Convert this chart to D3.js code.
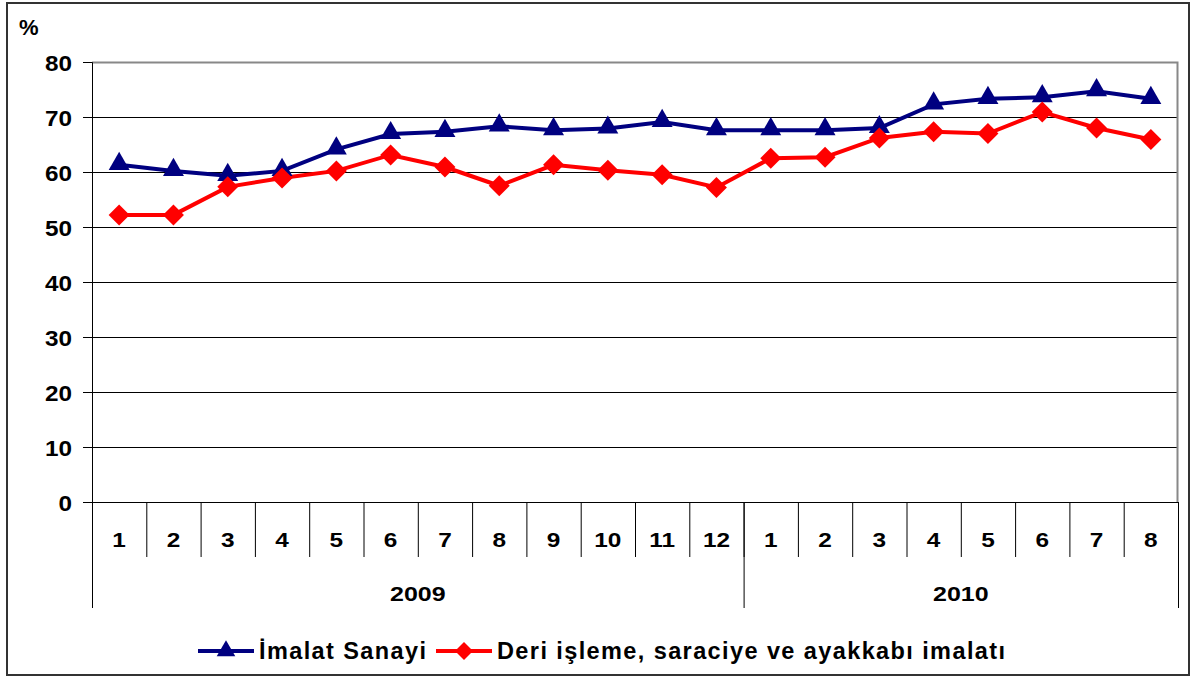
<!DOCTYPE html>
<html>
<head>
<meta charset="utf-8">
<script src="https://cdn.jsdelivr.net/npm/d3@7"></script>
<style>
  body { margin: 0; background: #fff; }
  text { font-family: 'Liberation Sans', Arial, sans-serif; font-weight: bold; fill: #000; }
</style>
</head>
<body>
<div id="chart"></div>
<script>
const months = ['1', '2', '3', '4', '5', '6', '7', '8', '9', '10', '11', '12', '1', '2', '3', '4', '5', '6', '7', '8'];
const years = [{ label: '2009', count: 12 }, { label: '2010', count: 8 }];
const imalat = [61.3, 60.2, 59.3, 60.2, 64.1, 66.9, 67.3, 68.3, 67.6, 67.9, 69.1, 67.6, 67.6, 67.6, 68.0, 72.3, 73.3, 73.6, 74.7, 73.3];
const deri = [52.2, 52.2, 57.3, 58.9, 60.2, 63.1, 60.9, 57.5, 61.3, 60.3, 59.5, 57.2, 62.5, 62.7, 66.2, 67.3, 67.0, 70.9, 68.0, 65.9];
const yTicks = [0, 10, 20, 30, 40, 50, 60, 70, 80];
const seriesNames = ['İmalat Sanayi', 'Deri işleme, saraciye ve ayakkabı imalatı'];

const W = 1192, H = 677;
const margin = { top: 62, right: 14, bottom: 175, left: 92 };
const width = W - margin.left - margin.right;
const height = H - margin.top - margin.bottom;

const svg = d3.select('#chart').append('svg')
  .attr('width', W)
  .attr('height', H);

// outer frame
svg.append('rect')
  .attr('x', 7).attr('y', 3)
  .attr('width', 1182).attr('height', 672)
  .attr('fill', 'none')
  .attr('stroke', '#333')
  .attr('stroke-width', 2);

const g = svg.append('g')
  .attr('transform', `translate(${margin.left},${margin.top})`);

const x = d3.scaleBand()
  .domain(d3.range(months.length))
  .range([0, width]);

const y = d3.scaleLinear()
  .domain([0, 80])
  .range([height, 0]);

// gridlines
g.selectAll('.grid')
  .data(yTicks.filter((t) => t > 0 && t < 80))
  .enter()
  .append('line')
  .attr('x1', 0)
  .attr('x2', width)
  .attr('y1', (d) => y(d) + 0.5)
  .attr('y2', (d) => y(d) + 0.5)
  .attr('stroke', '#000')
  .attr('stroke-width', 1);

// plot border top / right (gray)
g.append('path')
  .attr('d', `M0,${y(80) + 0.5}H${width - 0.5}V${height}`)
  .attr('fill', 'none')
  .attr('stroke', '#888')
  .attr('stroke-width', 2);

// Y axis
const yAxis = g.append('g')
  .call(d3.axisLeft(y).tickValues(yTicks).tickSize(9).tickPadding(11));
yAxis.select('.domain').attr('stroke', '#000');
yAxis.selectAll('.tick line').attr('stroke', '#000');
yAxis.selectAll('text')
  .style('font-size', '22.5px')
  .attr('dy', '0.36em')
  .attr('transform', 'translate(-20,0) scale(1.08,1) translate(20,0)');

// X axis line
g.append('line')
  .attr('x1', 0).attr('x2', width)
  .attr('y1', height + 0.5).attr('y2', height + 0.5)
  .attr('stroke', '#000');

// month separators
g.selectAll('.msep')
  .data(d3.range(1, months.length))
  .enter()
  .append('line')
  .attr('x1', (d) => x(d) + 0.5)
  .attr('x2', (d) => x(d) + 0.5)
  .attr('y1', height)
  .attr('y2', height + 55)
  .attr('stroke', '#000');

// year separators
let cum = 0;
const yearBounds = [0];
years.forEach((yr) => { cum += yr.count; yearBounds.push(cum); });
g.selectAll('.ysep')
  .data(yearBounds)
  .enter()
  .append('line')
  .attr('x1', (d) => (d === months.length ? width : x(d)) + 0.5)
  .attr('x2', (d) => (d === months.length ? width : x(d)) + 0.5)
  .attr('y1', height)
  .attr('y2', height + 106)
  .attr('stroke', '#000');

// month labels (wide-looking glyphs as in the original)
g.selectAll('.mlabel')
  .data(months)
  .enter()
  .append('g')
  .attr('transform', (d, i) => `translate(${x(i) + x.bandwidth() / 2},${height + 45})`)
  .append('text')
  .attr('text-anchor', 'middle')
  .attr('transform', 'scale(1.22,1)')
  .style('font-size', '20px')
  .text((d) => d);

// year labels
g.selectAll('.ylabel')
  .data(years)
  .enter()
  .append('g')
  .attr('transform', (d, i) => {
    const a = x(yearBounds[i]);
    const b = yearBounds[i + 1] === months.length ? width : x(yearBounds[i + 1]);
    return `translate(${(a + b) / 2},${height + 99})`;
  })
  .append('text')
  .attr('text-anchor', 'middle')
  .attr('transform', 'scale(1.22,1)')
  .style('font-size', '20.5px')
  .text((d) => d.label);

// % label
svg.append('text')
  .attr('x', 19).attr('y', 35)
  .style('font-size', '22px')
  .text('%');

const cx = (i) => x(i) + x.bandwidth() / 2;
const line = d3.line().x((d, i) => cx(i)).y((d) => y(d));

const triangle = d3.symbol().type(d3.symbolTriangle).size(190);
const diamond = 'M0,-10.5L10.5,0L0,10.5L-10.5,0Z';

// blue series
g.append('path')
  .datum(imalat)
  .attr('d', line)
  .attr('fill', 'none')
  .attr('stroke', '#000080')
  .attr('stroke-width', 4);

// red series
g.append('path')
  .datum(deri)
  .attr('d', line)
  .attr('fill', 'none')
  .attr('stroke', '#ff0000')
  .attr('stroke-width', 4);

g.selectAll('.tri')
  .data(imalat)
  .enter()
  .append('path')
  .attr('d', triangle)
  .attr('transform', (d, i) => `translate(${cx(i)},${y(d) - 1})`)
  .attr('fill', '#000080');

g.selectAll('.dia')
  .data(deri)
  .enter()
  .append('path')
  .attr('d', diamond)
  .attr('transform', (d, i) => `translate(${cx(i)},${y(d)})`)
  .attr('fill', '#ff0000');

// legend
const legend = svg.append('g').attr('transform', 'translate(0,651)');
const legendItems = [
  { x: 198, color: '#000080', marker: 'tri', name: seriesNames[0] },
  { x: 436, color: '#ff0000', marker: 'dia', name: seriesNames[1] },
];
legendItems.forEach((it) => {
  legend.append('line')
    .attr('x1', it.x).attr('x2', it.x + 56)
    .attr('y1', 0).attr('y2', 0)
    .attr('stroke', it.color)
    .attr('stroke-width', 4);
  legend.append('path')
    .attr('d', it.marker === 'tri' ? d3.symbol().type(d3.symbolTriangle).size(150) : 'M0,-9L9,0L0,9L-9,0Z')
    .attr('transform', `translate(${it.x + 28},0)`)
    .attr('fill', it.color);
  legend.append('text')
    .attr('x', it.x + 61)
    .attr('y', 8)
    .style('font-size', '23.5px')
    .style('letter-spacing', '1.4px')
    .text(it.name);
});
</script>
</body>
</html>
